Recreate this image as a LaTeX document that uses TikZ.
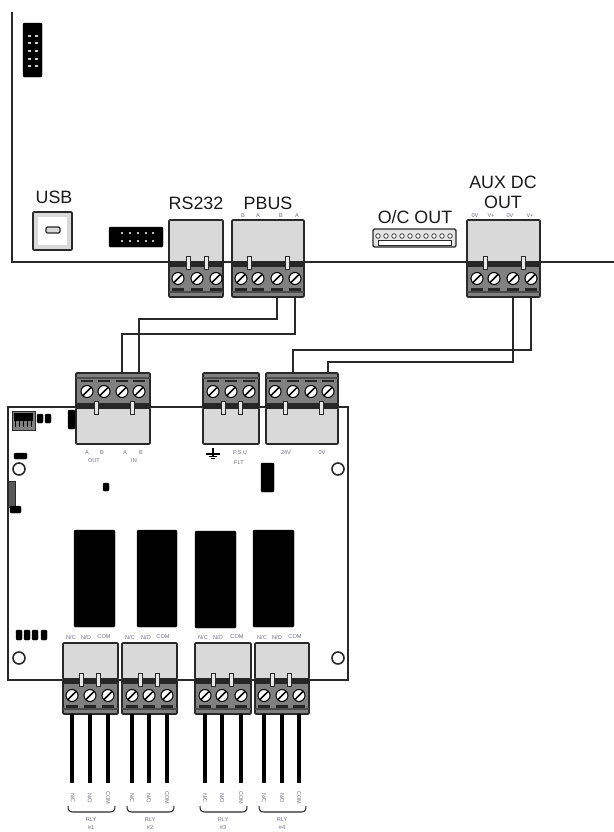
\documentclass[tikz,border=0pt]{standalone}
\usepackage{amsmath}
\usepackage{fontspec}
\usepackage{xcolor}
\usetikzlibrary{calc}
\setmainfont{Liberation Sans}
\definecolor{blockgrey}{rgb}{0.85,0.85,0.85}
\definecolor{screwgrey}{rgb}{0.5,0.5,0.5}
\definecolor{inkgrey}{rgb}{0.16,0.16,0.16}
\definecolor{tinygrey}{rgb}{0.42,0.42,0.5}
\tikzset{
  boardline/.style={draw=inkgrey,line width=1.2pt},
  blockline/.style={draw=inkgrey,line width=1.2pt,rounded corners=0.8pt},
  solidblack/.style={fill=black,draw=black,line width=0.3pt,rounded corners=0.8pt},
  hole/.style={circle,draw=inkgrey,line width=1.2pt,fill=white,minimum size=9pt,inner sep=0pt},
  screwhead/.style={circle,draw=black,line width=0.8pt,fill=white,minimum size=9pt,inner sep=0pt},
  wire/.style={draw=inkgrey,line width=0.95pt},
  relaywire/.style={draw=black,line width=2.5pt},
  bigtext/.style={font=\fontsize{13.4}{15}\selectfont,text=black!90,inner sep=0pt},
  tinytext/.style={font=\fontsize{4.2}{5}\selectfont,text=tinygrey,inner sep=0pt},
}
% #1 name, #2 left, #3 right, #4 edge of board, #5 side (1 = screws below the edge, -1 = above), #6 screws, #7 pins, #8 length of grey part
\newcommand{\terminalblock}[8]{
  \path [blockline,fill=blockgrey] (#2,#4) rectangle (#3,#4-#5*#8);
  \path [blockline,fill=screwgrey] (#2,#4+#5*0) rectangle (#3,#4+#5*35);
  \fill [black!85] (#2,#4-#5*1) rectangle (#3,#4+#5*5);
  \fill [black!70] (#2,#4+#5*29) rectangle (#3,#4+#5*31);
  \foreach \sx [count=\sn] in {#6} {
    \node [screwhead] (#1s\sn) at (\sx,#4+#5*16.5) {};
    \draw [black,line width=1.1pt] (\sx-4,#4+#5*16.5+4) -- (\sx+4,#4+#5*16.5-4);
    \fill [black!85] (\sx-6,#4+#5*26) rectangle (\sx+6,#4+#5*28.5);
    \coordinate (#1w\sn) at (\sx,#4+#5*35);
  }
  \foreach \px in {#7} {
    \path [draw=inkgrey,line width=0.7pt,fill=blockgrey!60] (\px-2,#4-#5*6) rectangle (\px+2,#4+#5*7);
  }
}

\begin{document}
\begin{tikzpicture}[x=0.75pt,y=0.75pt,yscale=-1,xscale=1]
\useasboundingbox (0,0) rectangle (614,832);

%Shape: upper board edge
\draw [boardline] (12,12) -- (12,262) -- (614,262);
%Shape: lower board edge
\draw [boardline] (8,407) -- (348,407) -- (348,680) -- (8,680) -- cycle;

%Shape: top header
\path [solidblack] (23,23) rectangle (42,77);
\foreach \hy in {36,43,51,59,66} {
  \fill [white!80!black] (28,\hy-1) rectangle (30.5,\hy+1);
  \fill [white!80!black] (35,\hy-1) rectangle (37.5,\hy+1);
}
%Shape: USB socket
\path [blockline,fill=blockgrey] (33,212) rectangle (72,250);
\fill [white] (38,217) -- (67,217) -- (67,245) -- (38,245) -- cycle;
\path [draw=inkgrey,line width=0.9pt,fill=blockgrey,rounded corners=1pt] (46,227) rectangle (60,233);
%Shape: flat header
\path [solidblack] (109,227) rectangle (163,247);
\foreach \hx in {122,130,138,146,153} {
  \fill [white!75!black] (\hx-1,232) rectangle (\hx+1,234);
  \fill [white!75!black] (\hx-1,240) rectangle (\hx+1,242);
}
%Shape: O/C OUT connector
\path [draw=inkgrey,line width=1pt,fill=blockgrey!70,rounded corners=1pt] (373,229) rectangle (456,247);
\path [draw=inkgrey,line width=0.6pt,fill=white] (378,240) rectangle (451,245);
\foreach \hx in {378,386,...,450} {
  \node [circle,draw=inkgrey,line width=0.5pt,fill=white,minimum size=3.4pt,inner sep=0pt] at (\hx,236) {};
}

%Shape: terminal blocks of the upper board
\terminalblock{rstwo}{169}{223}{262}{1}{178,197,216}{188,206}{42}
\terminalblock{pbus}{232}{304}{262}{1}{241,258,277,295}{249,287}{42}
\terminalblock{aux}{467}{540}{262}{1}{477,494,513,531}{485,523}{42}

%Shape: terminal blocks on top of the lower board
\terminalblock{rsin}{76}{150}{408}{-1}{87,104,122,139}{96,132}{36}
\terminalblock{psu}{203}{259}{408}{-1}{213,231,249}{223,240}{36}
\terminalblock{power}{266}{338}{408}{-1}{275,293,311,328}{285,321}{36}

%Shape: relay terminal blocks
\terminalblock{rlya}{63}{118}{679}{1}{72,90,108}{81,98}{36}
\terminalblock{rlyb}{122}{177}{679}{1}{132,149,167}{140,157}{36}
\terminalblock{rlyc}{195}{251}{679}{1}{205,222,241}{213,231}{36}
\terminalblock{rlyd}{255}{309}{679}{1}{264,282,299}{272,289}{36}

%Shape: parts on the lower board
\path [draw=inkgrey,fill=screwgrey,line width=0.6pt] (12,411) rectangle (35,430);
\fill [black] (14,413) rectangle (33,421);
\foreach \hx in {16,20,24,28,32} { \fill [black] (\hx-1,421) rectangle (\hx,427); }
\path [solidblack] (37,414) rectangle (43,423);
\path [solidblack] (45,414) rectangle (51,423);
\path [solidblack] (68,410) rectangle (75,429);
\path [solidblack] (14,453) rectangle (27,459);
\path [solidblack] (103,483) rectangle (109,491);
\path [solidblack] (261,463) rectangle (274,492);
\path [draw=inkgrey,fill=black!65,line width=0.5pt] (8,481) rectangle (15,507);
\path [solidblack] (10,506) rectangle (21,513);
\foreach \hx/\hw in {16/6,24/6,32/6,41/6} {
  \path [solidblack] (\hx,630) rectangle (\hx+\hw,640);
}
\path [solidblack] (74,530) rectangle (115,627);
\path [solidblack] (137,530) rectangle (177,627);
\path [solidblack] (195,531) rectangle (236,628);
\path [solidblack] (253,530) rectangle (294,627);
\node [hole] (holea) at (19,469) {};
\node [hole] (holeb) at (338,469) {};
\node [hole] (holec) at (19,658) {};
\node [hole] (holed) at (338,658) {};

%Shape: earth symbol
\draw [black,line width=0.9pt] (213,448) -- (213,456);
\draw [black,line width=0.9pt] (206,454) -- (220,454);
\draw [black,line width=0.7pt] (209,456.5) -- (217,456.5);
\draw [black,line width=0.6pt] (211,458.5) -- (215,458.5);

%Straight Lines: wires between the boards
\draw [wire] (pbusw3) -- ++(0,22) -| (rsinw4);
\draw [wire] (pbusw4) -- ++(0,37) -| (rsinw3);
\draw [wire] (auxw3) -- ++(0,65) -| (powerw4);
\draw [wire] (auxw4) -- ++(0,53) -| (powerw2);

%Straight Lines: relay wires
\foreach \rname in {rlya,rlyb,rlyc,rlyd} {
  \foreach \wn in {1,2,3} {
    \coordinate (\rname e\wn) at ($(\rname w\wn)+(0,69)$);
    \draw [relaywire] (\rname w\wn) -- (\rname e\wn);
  }
}

%Shape: brackets under the relay wires
\foreach \bx in {68,127,200,259} {
  \draw [inkgrey,line width=0.8pt] (\bx,806) .. controls (\bx,810) and (\bx+1,812) .. (\bx+5,812) -- (\bx+42,812) .. controls (\bx+46,812) and (\bx+47,810) .. (\bx+47,806);
}

% Text Node
\draw (54,197) node (usbtext) [bigtext] {USB};
\draw (196,203) node (rstext) [bigtext] {RS232};
\draw (268,203) node (pbustext) [bigtext] {PBUS};
\draw (415,217) node (octext) [bigtext] {O/C OUT};
\draw (503,182) node (auxtext) [bigtext] {AUX DC};
\draw (503,202) node (auxtextb) [bigtext] {OUT};

% Text Node
\foreach \tx/\tl in {243/B,258/A,281/B,297/A,475/0V,491/V+,510/0V,530/V+} {
  \draw (\tx,216) node [tinytext] {\tl};
}
% Text Node
\foreach \tx/\tl in {87/A,102/B,125/A,141/B,240/P.S.U,286/24V,322/0V} {
  \draw (\tx,453) node [tinytext] {\tl};
}
\draw (94,461) node [tinytext] {OUT};
\draw (134,461) node [tinytext] {IN};
\draw (239,463) node [tinytext] {FLT};
% Text Node
\foreach \tx/\tl in {71/{N/C},86/{N/O},104/COM,130/{N/C},146/{N/O},163/COM,203/{N/C},218/{N/O},237/COM,262/{N/C},277/{N/O},295/COM} {
  \draw (\tx,637) node [tinytext] {\tl};
}
% Text Node
\foreach \tx/\tl in {73/{N/C},90/{N/O},108/COM,132/{N/C},149/{N/O},167/COM,205/{N/C},222/{N/O},241/COM,264/{N/C},282/{N/O},299/COM} {
  \draw (\tx,798) node [tinytext,rotate=-90] {\tl};
}
% Text Node
\foreach \tx/\tl in {91/\#1,150/\#2,223/\#3,282/\#4} {
  \draw (\tx,820) node [tinytext] {RLY};
  \draw (\tx,828) node [tinytext] {\tl};
}

\end{tikzpicture}
\end{document}
